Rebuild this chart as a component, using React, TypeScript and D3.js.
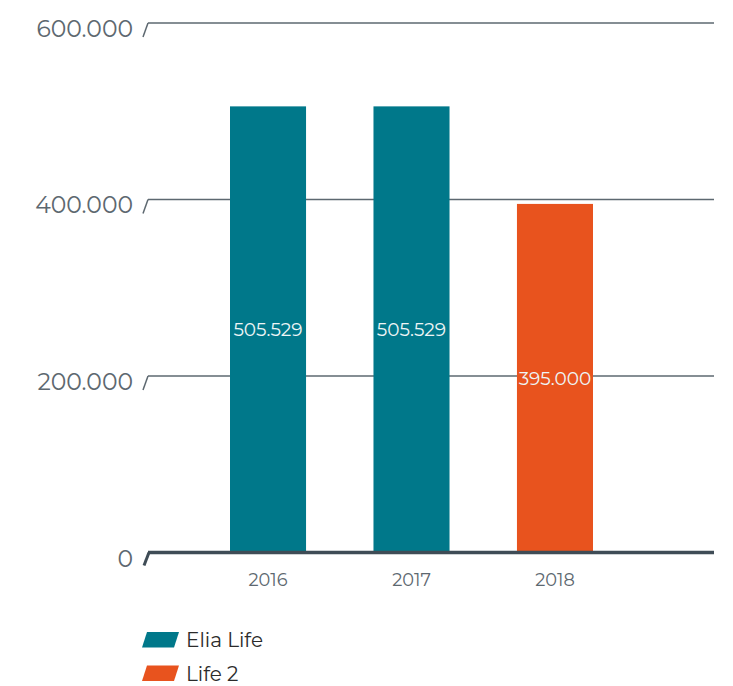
import React from "react";
import * as d3 from "d3";

const categories = ["2016", "2017", "2018"];
const values = [505529, 505529, 395000];
const seriesOf = ["Elia Life", "Elia Life", "Life 2"];
const yTicks = [0, 200000, 400000, 600000];
const legendItems = ["Elia Life", "Life 2"];
const colors: Record<string, string> = { "Elia Life": "#00788a", "Life 2": "#e8531e" };

const fmt = (v: number) => (v === 0 ? "0" : d3.format(",.0f")(v).replace(/,/g, "."));

export default function App() {
  const W = 733, H = 686;
  const x = d3.scaleBand<string>().domain(categories).range([230, 593]).paddingInner(0.47).paddingOuter(0);
  const y = d3.scaleLinear().domain([0, 600000]).range([552.5, 23]);
  const gx0 = 148, gx1 = 714;
  const font = "Montserrat, 'Open Sans', sans-serif";
  return (
    <svg width={W} height={H} style={{ position: "absolute", left: 0, top: 0 }}>
      {yTicks.filter((t) => t !== 0).map((t) => (
        <g key={t}>
          <line x1={gx0} x2={gx1} y1={y(t)} y2={y(t)} stroke="#5d6870" strokeWidth={1.3} />
          <line x1={gx0} y1={y(t)} x2={gx0 - 5} y2={y(t) + 14} stroke="#5d6870" strokeWidth={1.5} />
        </g>
      ))}
      {categories.map((c, i) => (
        <rect key={c} x={x(c)} width={x.bandwidth()} y={y(values[i])} height={y(0) - y(values[i])} fill={colors[seriesOf[i]]} />
      ))}
      {categories.map((c, i) => (
        <text key={c} x={x(c)! + x.bandwidth() / 2} y={(y(values[i]) + y(0)) / 2} textAnchor="middle" dominantBaseline="central"
          fill="#eef5f6" fontSize={18.5} fontFamily={font}>{fmt(values[i])}</text>
      ))}
      <line x1={gx0} x2={gx1} y1={y(0)} y2={y(0)} stroke="#3f4c56" strokeWidth={3.5} />
      <line x1={gx0 + 1} y1={y(0)} x2={gx0 - 4} y2={y(0) + 13} stroke="#3f4c56" strokeWidth={3} />
      {yTicks.map((t) => (
        <text key={t} x={133} y={y(t)} dy={t === 0 ? 14.5 : 13.5} textAnchor="end" fill="#5d6870" fontSize={23.5} fontFamily={font}>{fmt(t)}</text>
      ))}
      {categories.map((c) => (
        <text key={c} x={x(c)! + x.bandwidth() / 2} y={586} textAnchor="middle" fill="#5d6870" fontSize={17.8} fontFamily={font}>{c}</text>
      ))}
      {legendItems.map((s, i) => (
        <g key={s} transform={`translate(142, ${632 + i * 33.5})`}>
          <polygon points="5,0 37,0 32,15.5 0,15.5" fill={colors[s]} />
          <text x={44} y={15} fill="#2b2b2b" fontSize={20} fontFamily={font}>{s}</text>
        </g>
      ))}
    </svg>
  );
}
